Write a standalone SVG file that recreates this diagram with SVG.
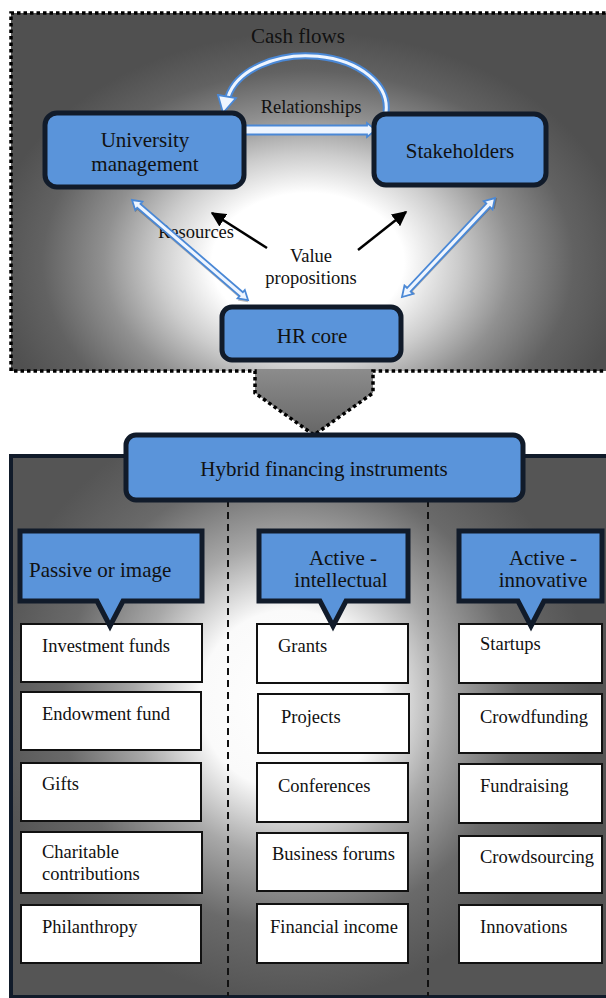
<svg xmlns="http://www.w3.org/2000/svg" width="606" height="998" viewBox="0 0 606 998">
<defs>
<style>
text{font-family:"Liberation Serif","Times New Roman",serif;fill:#111;}
.big{font-size:21px;}
.mid{font-size:18.5px;}
.node{fill:#5a94da;stroke:#111b2a;stroke-width:5;}
.item{fill:#fff;stroke:#111;stroke-width:2;}
.dash{stroke:#111;stroke-width:2;stroke-dasharray:7 5;fill:none;}
.hollow{fill:#eef5ff;stroke:#4a88d6;stroke-width:1.8;stroke-linejoin:miter;}
.shadow{fill:#333;opacity:0.35;}
.black{stroke:#000;stroke-width:2.5;fill:none;}
</style>
<radialGradient id="gTop" gradientUnits="userSpaceOnUse" cx="308" cy="262" r="320" gradientTransform="translate(308 262) scale(1 0.72) translate(-308 -262)">
<stop offset="0" stop-color="#ffffff"/>
<stop offset="0.3" stop-color="#ffffff"/>
<stop offset="0.47" stop-color="#cccccc"/>
<stop offset="0.64" stop-color="#909090"/>
<stop offset="0.83" stop-color="#626262"/>
<stop offset="1" stop-color="#505050"/>
</radialGradient>
<radialGradient id="gBot" gradientUnits="userSpaceOnUse" cx="290" cy="700" r="300">
<stop offset="0" stop-color="#ffffff"/>
<stop offset="0.3" stop-color="#fafafa"/>
<stop offset="0.52" stop-color="#a8a8a8"/>
<stop offset="0.76" stop-color="#6a6a6a"/>
<stop offset="1" stop-color="#555555"/>
</radialGradient>
<linearGradient id="gChev" x1="0" y1="0" x2="0" y2="1">
<stop offset="0" stop-color="#8c8c8c"/>
<stop offset="1" stop-color="#666666"/>
</linearGradient>
<marker id="bh" viewBox="0 0 10 10" refX="9" refY="5" markerWidth="6" markerHeight="6" markerUnits="strokeWidth" orient="auto">
<path d="M0,0 L10,5 L0,10 Z" fill="#000"/>
</marker>
</defs>

<!-- Top panel -->
<g id="topPanel">
<rect x="11" y="13" width="600" height="358" fill="url(#gTop)"/>
<polygon points="255,369 373,369 373,393 314,435 255,393" fill="url(#gChev)"/>
<path d="M612,13 H11 V371 H255 V393 L314,435 L373,393 V371 H612" fill="none" stroke="#000" stroke-width="3.5" stroke-dasharray="3.5 3"/>
<text class="big" x="298" y="43" text-anchor="middle">Cash flows</text>
</g>

<!-- Bottom panel -->
<g id="bottomPanel">
<rect x="11" y="456" width="600" height="541" fill="url(#gBot)" stroke="#111b2a" stroke-width="4"/>
<line class="dash" x1="228" y1="500" x2="228" y2="996"/>
<line class="dash" x1="428" y1="500" x2="428" y2="996"/>
</g>

<!-- Connectors -->
<g id="connectors">
<!-- Curved cash flow arrow -->
<path d="M386,112 A80,52 0 0 0 228,97" fill="none" stroke="#4a88d6" stroke-width="7"/>
<path d="M386,112 A80,52 0 0 0 228,97" fill="none" stroke="#eef5ff" stroke-width="3"/>
<polygon class="hollow" points="218,95 236,98 223,113"/>
<!-- Relationships straight arrow -->
<g transform="translate(245 130)">
<polygon class="hollow" points="0,-4.5 122,-4.5 122,-7 131,0 122,7 122,4.5 0,4.5"/>
</g>
<!-- Resources diagonal shadow -->
<g transform="translate(132 200) rotate(40.76)">
<polygon class="shadow" transform="translate(1.5 1.5)" points="0,0 9,-5.5 9,-2.5 144.2,-2.5 144.2,-5.5 153.2,0 144.2,5.5 144.2,2.5 9,2.5 9,5.5"/>
</g>
<!-- Right diagonal -->
<g transform="translate(402 297) rotate(-46.78)">
<polygon class="shadow" transform="translate(1.5 1.5)" points="0,0 10,-6 10,-2.5 125.8,-2.5 125.8,-6 135.8,0 125.8,6 125.8,2.5 10,2.5 10,6"/>
<polygon class="hollow" points="0,0 10,-6 10,-2.5 125.8,-2.5 125.8,-6 135.8,0 125.8,6 125.8,2.5 10,2.5 10,6"/>
</g>
<!-- Value proposition arrows -->
<line class="black" x1="267" y1="248" x2="212" y2="213" marker-end="url(#bh)"/>
<line class="black" x1="358" y1="250" x2="406" y2="212" marker-end="url(#bh)"/>
</g>

<text class="mid" x="311" y="113" text-anchor="middle">Relationships</text>
<text class="mid" x="196" y="238" text-anchor="middle">Resources</text>
<g id="valueProps">
<text class="mid" x="311" y="262" text-anchor="middle">Value</text>
<text class="mid" x="311" y="284" text-anchor="middle">propositions</text>
</g>
<!-- resources arrow drawn over its label -->
<g id="resourcesArrow" transform="translate(132 200) rotate(40.76)">
<polygon class="hollow" points="0,0 9,-5.5 9,-2.5 144.2,-2.5 144.2,-5.5 153.2,0 144.2,5.5 144.2,2.5 9,2.5 9,5.5"/>
</g>

<!-- Top nodes -->
<g id="universityManagement">
<rect class="node" x="45" y="113" width="199" height="74" rx="12"/>
<text class="big" x="145" y="147" text-anchor="middle">University</text>
<text class="big" x="145" y="171" text-anchor="middle">management</text>
</g>
<g id="stakeholders">
<rect class="node" x="374" y="114" width="172" height="71" rx="12"/>
<text class="big" x="460" y="158" text-anchor="middle">Stakeholders</text>
</g>
<g id="hrCore">
<rect class="node" x="222" y="307" width="179" height="53" rx="10"/>
<text class="big" x="312" y="343" text-anchor="middle">HR core</text>
</g>

<!-- Hybrid header -->
<g id="hybrid">
<rect class="node" x="126" y="435" width="397" height="65" rx="10"/>
<text class="big" x="324" y="476" text-anchor="middle">Hybrid financing instruments</text>
</g>

<!-- Column 1 items -->
<g id="investmentFunds"><rect class="item" x="21" y="624" width="181" height="58"/><text class="mid" x="42" y="652">Investment funds</text></g>
<g id="endowmentFund"><rect class="item" x="21" y="692" width="180" height="58"/><text class="mid" x="42" y="720">Endowment fund</text></g>
<g id="gifts"><rect class="item" x="21" y="763" width="180" height="58"/><text class="mid" x="42" y="790">Gifts</text></g>
<g id="charitable"><rect class="item" x="21" y="832" width="181" height="61"/><text class="mid" x="42" y="858">Charitable</text><text class="mid" x="42" y="880">contributions</text></g>
<g id="philanthropy"><rect class="item" x="21" y="905" width="180" height="58"/><text class="mid" x="42" y="933">Philanthropy</text></g>

<!-- Column 2 items -->
<g id="grants"><rect class="item" x="257" y="624" width="151" height="59"/><text class="mid" x="278" y="652">Grants</text></g>
<g id="projects"><rect class="item" x="258" y="694" width="151" height="59"/><text class="mid" x="281" y="723">Projects</text></g>
<g id="conferences"><rect class="item" x="257" y="763" width="151" height="59"/><text class="mid" x="278" y="792">Conferences</text></g>
<g id="businessForums"><rect class="item" x="257" y="833" width="151" height="58"/><text class="mid" x="272" y="860">Business forums</text></g>
<g id="financialIncome"><rect class="item" x="257" y="904" width="151" height="59"/><text class="mid" x="270" y="933">Financial income</text></g>

<!-- Column 3 items -->
<g id="startups"><rect class="item" x="459" y="624" width="143" height="59"/><text class="mid" x="480" y="650">Startups</text></g>
<g id="crowdfunding"><rect class="item" x="459" y="694" width="143" height="59"/><text class="mid" x="480" y="723">Crowdfunding</text></g>
<g id="fundraising"><rect class="item" x="459" y="764" width="143" height="59"/><text class="mid" x="480" y="792">Fundraising</text></g>
<g id="crowdsourcing"><rect class="item" x="459" y="836" width="143" height="57"/><text class="mid" x="480" y="863">Crowdsourcing</text></g>
<g id="innovations"><rect class="item" x="459" y="905" width="143" height="58"/><text class="mid" x="480" y="933">Innovations</text></g>

<!-- Column headers (callouts) -->
<g id="passive">
<path class="node" d="M20,531 H202 V601 H123 L110,626 L97,601 H20 Z"/>
<text class="big" x="29" y="577">Passive or image</text>
</g>
<g id="activeIntellectual">
<path class="node" d="M259,531 H408 V601 H346 L333,626 L320,601 H259 Z"/>
<text class="big" x="343" y="565" text-anchor="middle">Active -</text>
<text class="big" x="341" y="587" text-anchor="middle">intellectual</text>
</g>
<g id="activeInnovative">
<path class="node" d="M459,531 H602 V601 H544 L531,626 L518,601 H459 Z"/>
<text class="big" x="543" y="565" text-anchor="middle">Active -</text>
<text class="big" x="543" y="587" text-anchor="middle">innovative</text>
</g>
</svg>
